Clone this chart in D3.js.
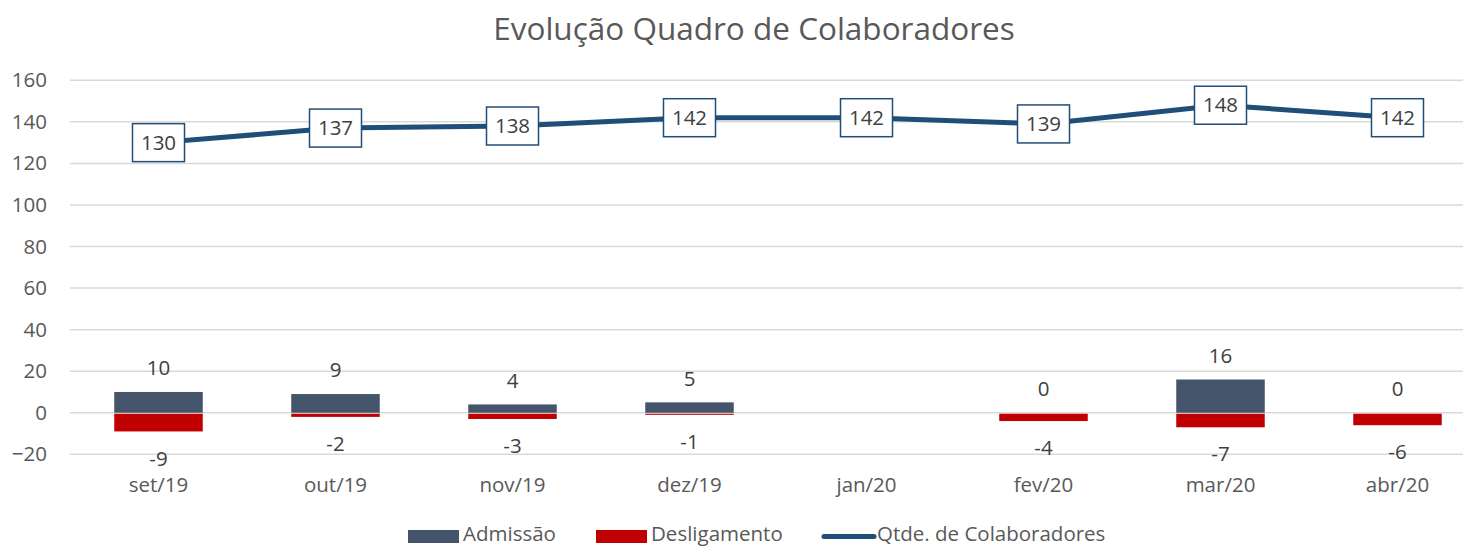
<!DOCTYPE html>
<html><head><meta charset="utf-8">
<script src="https://cdn.jsdelivr.net/npm/d3@7"></script>
<style>body{margin:0;background:#fff}svg{display:block;font-family:"Open Sans","Noto Sans",sans-serif}</style>
</head><body><svg id="c" width="1463" height="547"></svg>
<script>
const categories = ["set/19","out/19","nov/19","dez/19","jan/20","fev/20","mar/20","abr/20"];
const admissao = [10, 9, 4, 5, null, 0, 16, 0];
const desligamento = [-9, -2, -3, -1, null, -4, -7, -6];
const qtde = [130, 137, 138, 142, 142, 139, 148, 142];
const yTicks = [-20, 0, 20, 40, 60, 80, 100, 120, 140, 160];
const seriesNames = ["Admissão", "Desligamento", "Qtde. de Colaboradores"];

const svg = d3.select("#c");
const textCol = "#595959";
const colAdm = "#44546A", colDes = "#C00000", colLine = "#1F4E79";
const fs = 20.5;

const pLeft = 70, pRight = 1486, pTop = 80.3, pBottom = 454.3;
const x = d3.scaleBand().domain(categories).range([pLeft, pRight]).paddingInner(0.5).paddingOuter(0.25);
const y = d3.scaleLinear().domain([-20, 160]).range([pBottom, pTop]);
const cx = c => x(c) + x.bandwidth() / 2;

// title
svg.append("text").attr("x", 754).attr("y", 40).attr("text-anchor", "middle")
  .attr("font-size", 31.5).attr("fill", textCol).text("Evolução Quadro de Colaboradores");

// gridlines
svg.append("g").selectAll("line").data(yTicks).join("line")
  .attr("x1", pLeft).attr("x2", pRight).attr("y1", d => y(d)).attr("y2", d => y(d))
  .attr("stroke", "#d9d9d9").attr("stroke-width", 1.5);

// y axis
const yAxis = d3.axisLeft(y).tickValues(yTicks).tickSize(0).tickPadding(0);
const gy = svg.append("g").attr("transform", `translate(47,0)`).call(yAxis);
gy.select(".domain").remove();
gy.selectAll("text").attr("font-size", fs).attr("fill", textCol).attr("font-family", "'Open Sans','Noto Sans',sans-serif");

// x axis
const xAxis = d3.axisBottom(x).tickSize(0).tickPadding(0);
const gx = svg.append("g").attr("transform", `translate(0,477)`).call(xAxis);
gx.select(".domain").remove();
gx.selectAll("text").attr("font-size", fs).attr("fill", textCol).attr("font-family", "'Open Sans','Noto Sans',sans-serif");

// bars
const admData = categories.map((c, i) => ({c, v: admissao[i]})).filter(d => d.v !== null);
const desData = categories.map((c, i) => ({c, v: desligamento[i]})).filter(d => d.v !== null);

svg.append("g").selectAll("rect").data(admData).join("rect")
  .attr("x", d => x(d.c)).attr("width", x.bandwidth())
  .attr("y", d => y(Math.max(0, d.v))).attr("height", d => Math.abs(y(d.v) - y(0)))
  .attr("fill", colAdm);
svg.append("g").selectAll("rect").data(desData).join("rect")
  .attr("x", d => x(d.c)).attr("width", x.bandwidth())
  .attr("y", d => y(0) + 1).attr("height", d => Math.max(0, Math.abs(y(d.v) - y(0)) - 1))
  .attr("fill", colDes);

// bar labels
svg.append("g").selectAll("text").data(admData).join("text")
  .attr("x", d => cx(d.c)).attr("y", d => y(d.v) - 24).attr("dy", "0.35em")
  .attr("text-anchor", "middle").attr("font-size", fs).attr("fill", "#404040").text(d => d.v);
svg.append("g").selectAll("text").data(desData).join("text")
  .attr("x", d => cx(d.c)).attr("y", d => y(d.v) + 27).attr("dy", "0.35em")
  .attr("text-anchor", "middle").attr("font-size", fs).attr("fill", "#404040").text(d => d.v);

// line
const lineData = categories.map((c, i) => ({c, v: qtde[i]}));
svg.append("path").datum(lineData)
  .attr("d", d3.line().x(d => cx(d.c)).y(d => y(d.v)))
  .attr("fill", "none").attr("stroke", colLine).attr("stroke-width", 5).attr("stroke-linejoin", "round");

const lbl = svg.append("g").selectAll("g").data(lineData).join("g")
  .attr("transform", d => `translate(${cx(d.c)},${y(d.v)})`);
lbl.append("rect").attr("x", -26).attr("y", -19).attr("width", 52).attr("height", 38)
  .attr("fill", "#fff").attr("stroke", colLine).attr("stroke-width", 1.5);
lbl.append("text").attr("text-anchor", "middle").attr("dy", "0.35em")
  .attr("font-size", fs).attr("fill", "#404040").text(d => d.v);

// legend
const legend = svg.append("g");
const legItems = [
  {name: seriesNames[0], color: colAdm, type: "rect", lx: 408},
  {name: seriesNames[1], color: colDes, type: "rect", lx: 596},
  {name: seriesNames[2], color: colLine, type: "line", lx: 822}
];
legItems.forEach(it => {
  if (it.type === "rect") {
    legend.append("rect").attr("x", it.lx).attr("y", 530).attr("width", 51).attr("height", 13).attr("fill", it.color);
  } else {
    legend.append("line").attr("x1", it.lx + 2).attr("x2", it.lx + 52).attr("y1", 536.5).attr("y2", 536.5)
      .attr("stroke", it.color).attr("stroke-width", 5).attr("stroke-linecap", "round");
  }
  legend.append("text").attr("x", it.lx + 55).attr("y", 533.5).attr("dy", "0.35em")
    .attr("font-size", fs).attr("fill", textCol).text(it.name);
});
</script></body></html>
